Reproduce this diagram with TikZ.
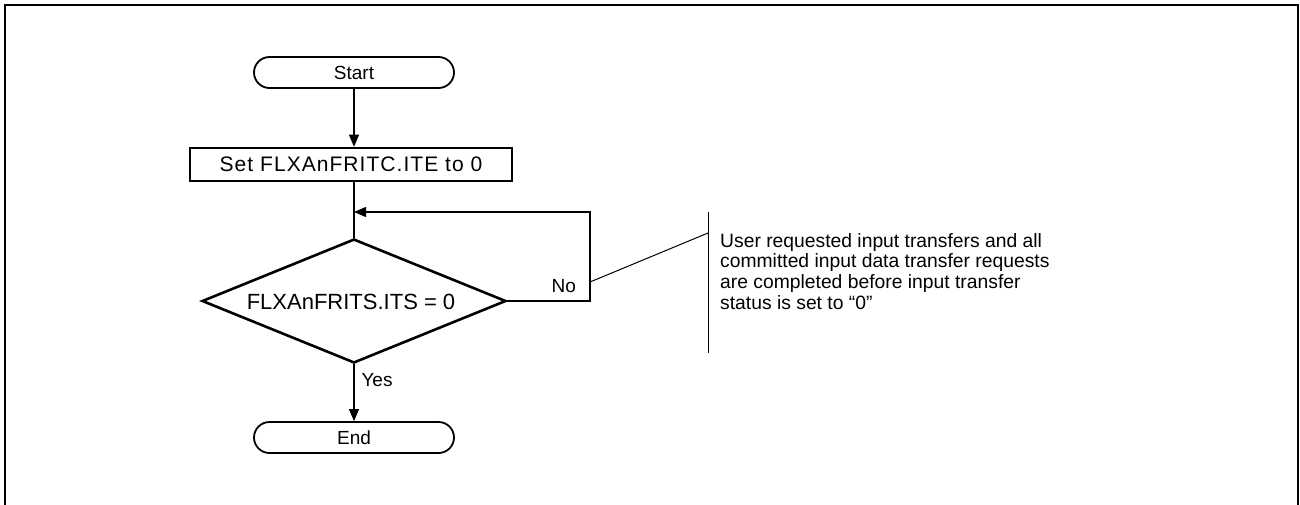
\documentclass[tikz,border=0pt]{standalone}
\usepackage{fontspec}
\setmainfont{Liberation Sans}
\usetikzlibrary{arrows.meta,shapes.geometric}
\begin{document}
\begin{tikzpicture}[x=1pt,y=-1pt,
  every node/.style={font=\fontsize{19}{21}\selectfont},
  terminal/.style={draw,line width=1.8pt,rounded corners=15.5pt,minimum width=200pt,minimum height=31pt,inner sep=0pt},
  procbox/.style={draw,line width=2.6pt,minimum width=322pt,minimum height=33pt,inner sep=0pt,
    font=\fontsize{21}{23}\selectfont\addfontfeatures{LetterSpace=5}},
  decision/.style={draw,diamond,line width=2.6pt,minimum width=304pt,minimum height=124pt,inner sep=0pt,aspect=2.45},
  conn/.style={line width=1.2pt},
  arr/.style={conn,-{Triangle[length=12pt,width=10pt]}},
  frame/.style={line width=2pt}
]
\useasboundingbox (0,0) rectangle (1300,504);
% outer frame
\draw[frame] (5,506) -- (5,5) -- (1298,5) -- (1298,506);

\node[terminal] (start) at (354,72.5) {Start};
\node[procbox] (set) at (351,164.5) {Set FLXAnFRITC.ITE to 0};
\node[decision] (dec) at (354,301) {};
\node[font=\fontsize{22}{24}\selectfont] (dectext) at (351,302) {FLXAnFRITS.ITS = 0};
\node[terminal] (end) at (354,437.5) {End};

\coordinate (loopr) at (590,212);
\coordinate (looptip) at (354,212);
\coordinate (annA) at (590,282);
\coordinate (annB) at (708,233);
\coordinate (barT) at (708,212);
\coordinate (barB) at (708,353);

\draw[arr] (start.south) -- (start.south |- set.north);
\draw[conn] (dec.north |- set.south) -- (dec.north);
\draw[arr] (dec.east) -| (loopr) -- (looptip);
\draw[arr] (dec.south) -- (end.north);

\node[anchor=west] (no) at (548,286) {No};
\node[anchor=west] (yes) at (358,380) {Yes};

\draw[conn,line width=1pt] (annA) -- (annB);
\draw[conn,line width=1pt] (barT) -- (barB);
\node[anchor=north west,align=left,inner sep=0pt,font=\fontsize{19.3}{20.8}\selectfont] (note) at (720,233)
  {User requested input transfers and all\\committed input data transfer requests\\are completed before input transfer\\status is set to “0”};
\end{tikzpicture}
\end{document}
